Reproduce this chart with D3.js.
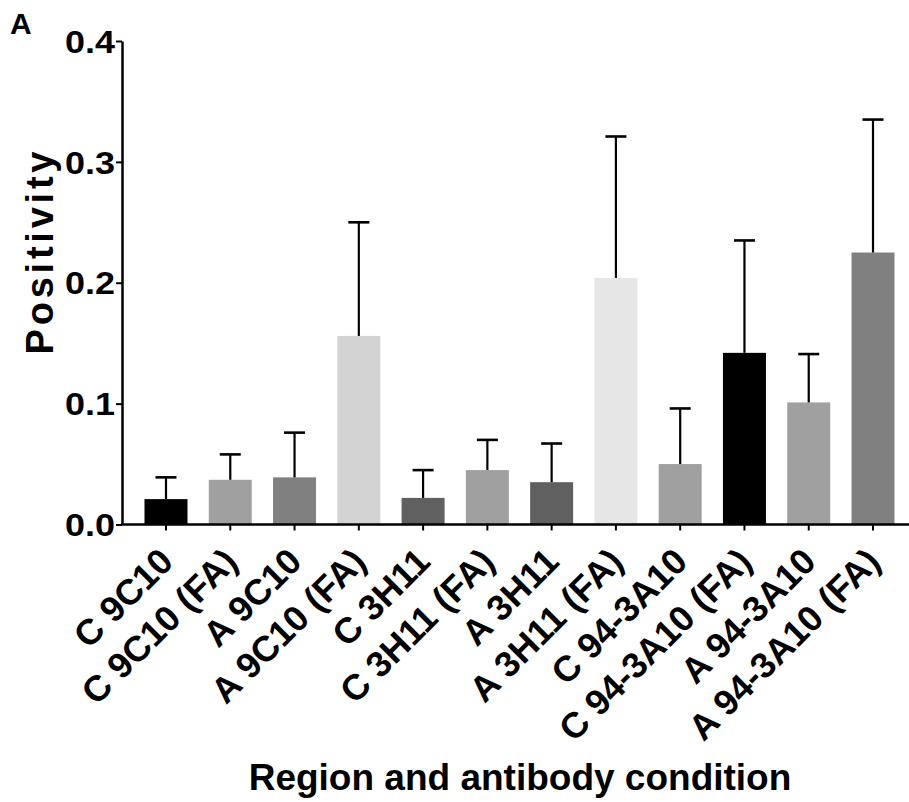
<!DOCTYPE html>
<html>
<head>
<meta charset="utf-8">
<script src="https://cdn.jsdelivr.net/npm/d3@7"></script>
<style>
  body { margin: 0; background: #fff; }
  text { font-family: "Liberation Sans", Arial, sans-serif; font-weight: bold; fill: #000; }
</style>
</head>
<body>
<div class="chart"></div>
<script>
let width = 909, height = 802;

// data
let categories = ["C 9C10", "C 9C10 (FA)", "A 9C10", "A 9C10 (FA)", "C 3H11", "C 3H11 (FA)",
    "A 3H11", "A 3H11 (FA)", "C 94-3A10", "C 94-3A10 (FA)", "A 94-3A10", "A 94-3A10 (FA)"];
let means = [0.021, 0.037, 0.039, 0.156, 0.022, 0.045, 0.035, 0.204, 0.050, 0.142, 0.101, 0.225];
let upper = [0.039, 0.058, 0.076, 0.250, 0.045, 0.070, 0.067, 0.321, 0.096, 0.235, 0.141, 0.335];
let fills = ["#000000", "#a0a0a0", "#808080", "#d3d3d3", "#606060", "#a0a0a0",
    "#606060", "#e6e6e6", "#a0a0a0", "#000000", "#a0a0a0", "#808080"];
let yTicks = [0, 0.1, 0.2, 0.3, 0.4];

let svg = d3.select(".chart").append("svg")
    .attr("width", width)
    .attr("height", height);

let x = d3.scaleBand()
    .domain(categories)
    .range([122, 917])
    .paddingInner(0.331)
    .paddingOuter(0.35);

let y = d3.scaleLinear()
    .domain([0, 0.4])
    .range([524.5, 41]);

// bars
svg.append("g").selectAll("rect")
    .data(categories)
    .join("rect")
    .attr("x", d => x(d))
    .attr("width", x.bandwidth())
    .attr("y", (d, i) => y(means[i]))
    .attr("height", (d, i) => y(0) - y(means[i]))
    .attr("fill", (d, i) => fills[i]);

// error bars (upper only)
let err = svg.append("g").attr("stroke", "#000");
err.selectAll("line.stem")
    .data(categories)
    .join("line")
    .attr("class", "stem")
    .attr("x1", d => x(d) + x.bandwidth() / 2)
    .attr("x2", d => x(d) + x.bandwidth() / 2)
    .attr("y1", (d, i) => y(means[i]))
    .attr("y2", (d, i) => y(upper[i]))
    .attr("stroke-width", 2.2);
err.selectAll("line.cap")
    .data(categories)
    .join("line")
    .attr("class", "cap")
    .attr("x1", d => x(d) + x.bandwidth() / 2 - 10.5)
    .attr("x2", d => x(d) + x.bandwidth() / 2 + 10.5)
    .attr("y1", (d, i) => y(upper[i]))
    .attr("y2", (d, i) => y(upper[i]))
    .attr("stroke-width", 2.6);

// y axis
let yAxis = svg.append("g")
    .attr("transform", "translate(122,0)")
    .call(d3.axisLeft(y).tickValues(yTicks).tickFormat(d3.format(".1f")).tickSize(6).tickSizeOuter(0));
yAxis.select(".domain").attr("stroke-width", 2.5);
yAxis.selectAll(".tick line").attr("stroke-width", 2);
yAxis.selectAll(".tick text")
    .attr("x", -7)
    .attr("dy", "0.36em")
    .attr("textLength", 50)
    .attr("lengthAdjust", "spacingAndGlyphs")
    .style("font-size", "31px");

// x axis
let xAxis = svg.append("g")
    .attr("transform", "translate(0,524.5)")
    .call(d3.axisBottom(x).tickSize(6).tickSizeOuter(0));
xAxis.select(".domain").attr("d", "M121,0H909").attr("stroke-width", 2.5);
xAxis.selectAll(".tick line").attr("stroke-width", 2);
xAxis.selectAll(".tick text")
    .attr("text-anchor", "end")
    .attr("x", 0)
    .attr("y", 0)
    .attr("dy", "0.36em")
    .attr("transform", "translate(0,30) rotate(-45)")
    .style("font-size", "36px");

// titles
svg.append("text")
    .attr("x", 520)
    .attr("y", 790)
    .attr("text-anchor", "middle")
    .style("font-size", "37px")
    .text("Region and antibody condition");

svg.append("text")
    .attr("transform", "translate(53,253) rotate(-90)")
    .attr("text-anchor", "middle")
    .attr("textLength", 203)
    .attr("lengthAdjust", "spacing")
    .style("font-size", "38px")
    .text("Positivity");

svg.append("text")
    .attr("x", 10)
    .attr("y", 34)
    .style("font-size", "30px")
    .text("A");
</script>
</body>
</html>
